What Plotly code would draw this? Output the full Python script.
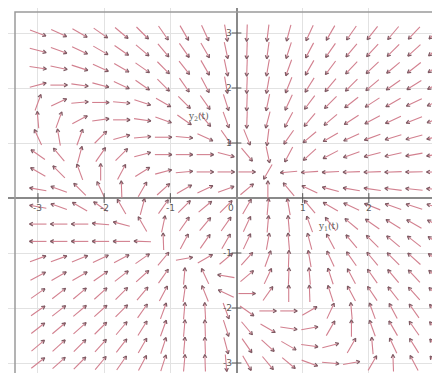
import math
import plotly.graph_objects as go

# ---- grid sample points (20 x 20 arrows) ----
x_points = [-3.0, -2.684, -2.368, -2.053, -1.737, -1.421, -1.105, -0.789, -0.474, -0.158,
            0.158, 0.474, 0.789, 1.105, 1.421, 1.737, 2.053, 2.368, 2.684, 3.0]
y_points = [3.0, 2.684, 2.368, 2.053, 1.737, 1.421, 1.105, 0.789, 0.474, 0.158,
            -0.158, -0.474, -0.789, -1.105, -1.421, -1.737, -2.053, -2.368, -2.684, -3.0]

# ---- arrow directions (degrees, counter-clockwise from +y1), one list per row, top to bottom ----
ang_r00 = [-20, -25, -30, -35, -40, -45, -55, -60, -65, -80, -92, -97, -105, -115, -120, -125, -128, -130, -133, -135]
ang_r01 = [-15, -20, -25, -30, -35, -40, -50, -55, -60, -78, -92, -98, -108, -118, -125, -130, -133, -135, -138, -140]
ang_r02 = [-8, -12, -18, -25, -30, -35, -45, -52, -60, -78, -92, -100, -110, -120, -127, -133, -137, -140, -142, -145]
ang_r03 = [15, 0, -8, -15, -25, -35, -45, -55, -62, -80, -92, -100, -112, -122, -130, -135, -140, -145, -148, -150]
ang_r04 = [70, 25, 5, 0, -5, -18, -30, -45, -55, -72, -92, -102, -115, -127, -135, -142, -147, -150, -155, -157]
ang_r05 = [95, 70, 28, 8, 0, -8, -20, -35, -50, -70, -92, -105, -118, -130, -140, -147, -152, -155, -158, -160]
ang_r06 = [115, 100, 70, 45, 15, 5, 0, -5, -25, -55, -68, -97, -125, -140, -150, -155, -160, -163, -165, -167]
ang_r07 = [145, 130, 75, 55, 45, 15, 0, 0, 0, -15, -50, -78, -118, -138, -152, -160, -165, -167, -170, -170]
ang_r08 = [150, 135, 110, 90, 62, 32, 15, 5, 0, 0, 0, -120, -175, -176, -177, -178, -178, -178, -179, -179]
ang_r09 = [170, 160, 135, 115, 92, 60, 42, 30, 25, 20, 40, 90, 130, 155, 165, 170, 172, 173, 174, 175]
ang_r10 = [170, 160, 150, 145, 120, 75, 55, 45, 40, 45, 60, 85, 100, 130, 150, 155, 158, 160, 162, 163]
ang_r11 = [180, 180, 180, 175, 165, 120, 78, 55, 50, 55, 65, 85, 95, 110, 128, 140, 145, 148, 150, 152]
ang_r12 = [180, 180, 180, 180, 180, 178, 92, 62, 55, 60, 65, 80, 95, 105, 118, 130, 135, 140, 142, 145]
ang_r13 = [20, 20, 22, 25, 28, 35, 50, 10, 30, 40, 48, 70, 88, 100, 115, 125, 130, 135, 138, 142]
ang_r14 = [28, 30, 30, 35, 38, 42, 55, 85, 115, 170, 40, 65, 88, 95, 108, 118, 125, 130, 133, 137]
ang_r15 = [35, 38, 40, 42, 45, 50, 62, 82, 112, 155, 0, 55, 90, 92, 108, 118, 124, 128, 132, 135]
ang_r16 = [35, 38, 40, 42, 45, 55, 70, 85, 93, -70, -35, 0, 0, 30, 65, 95, 110, 118, 125, 130]
ang_r17 = [38, 40, 42, 45, 50, 58, 70, 85, 92, -72, -50, -30, -8, 10, 60, 90, 110, 120, 125, 130]
ang_r18 = [40, 42, 45, 48, 52, 60, 72, 85, 92, -75, -55, -42, -30, -8, 15, 60, 95, 115, 122, 128]
ang_r19 = [38, 42, 45, 50, 55, 62, 72, 85, 92, -85, -60, -50, -40, -20, -5, 10, 60, 92, 118, 125]

angle_rows = [ang_r00, ang_r01, ang_r02, ang_r03, ang_r04, ang_r05, ang_r06, ang_r07, ang_r08, ang_r09,
              ang_r10, ang_r11, ang_r12, ang_r13, ang_r14, ang_r15, ang_r16, ang_r17, ang_r18, ang_r19]

# ---- axis ticks and labels ----
tick_values = [-3, -2, -1, 1, 2, 3]
x_tick_labels = ["-3", "-2", "-1", "1", "2", "3"]
y_tick_labels = ["-3", "-2", "-1", "1", "2", "3"]
x_title = "y<sub>1</sub>(t)"
y_title = "y<sub>2</sub>(t)"

# ---- styling ----
W, H = 440, 373
XR = [-3.453, 3.196]
YR = [-3.327, 3.4545]
ARROW_PX = 17.0
HEAD_PX = 3.8
SHAFT_COLOR = "#d2808f"
HEAD_COLOR = "#7d5a63"
LABEL_FONT = dict(size=9, color="#5a5a5a", family="DejaVu Sans")

px_per_x = W / (XR[1] - XR[0])
px_per_y = H / (YR[1] - YR[0])

sx, sy, hx, hy = [], [], [], []
for yv, row in zip(y_points, angle_rows):
    for xv, a in zip(x_points, row):
        r = math.radians(a)
        ux, uy = math.cos(r), math.sin(r)
        half_dx = 0.5 * ARROW_PX * ux / px_per_x
        half_dy = 0.5 * ARROW_PX * uy / px_per_y
        x0, y0 = xv - half_dx, yv - half_dy
        x1, y1 = xv + half_dx, yv + half_dy
        sx += [x0, x1, None]
        sy += [y0, y1, None]
        for s in (1, -1):
            b = r + math.pi + s * math.radians(28)
            bx = x1 + HEAD_PX * math.cos(b) / px_per_x
            by = y1 + HEAD_PX * math.sin(b) / px_per_y
            hx += [bx, x1, None]
            hy += [by, y1, None]

fig = go.Figure()
fig.add_trace(go.Scatter(x=sx, y=sy, mode="lines", line=dict(color=SHAFT_COLOR, width=1.1),
                         hoverinfo="skip", showlegend=False))
fig.add_trace(go.Scatter(x=hx, y=hy, mode="lines", line=dict(color=HEAD_COLOR, width=1.2),
                         hoverinfo="skip", showlegend=False))
# tick marks on the axes
fig.add_trace(go.Scatter(x=tick_values, y=[0] * len(tick_values), mode="markers",
                         marker=dict(symbol="line-ns", size=7, line=dict(color="#555", width=1)),
                         hoverinfo="skip", showlegend=False))
fig.add_trace(go.Scatter(x=[0] * len(tick_values), y=tick_values, mode="markers",
                         marker=dict(symbol="line-ew", size=7, line=dict(color="#555", width=1)),
                         hoverinfo="skip", showlegend=False))

ann = []
for v, t in zip(tick_values, x_tick_labels):
    ann.append(dict(x=v, y=0, xref="x", yref="y", text=t, showarrow=False, yshift=-10,
                    font=LABEL_FONT))
for v, t in zip(tick_values, y_tick_labels):
    ann.append(dict(x=0, y=v, xref="x", yref="y", text=t, showarrow=False, xanchor="right", xshift=-3,
                    font=LABEL_FONT))
ann.append(dict(x=0, y=0, xref="x", yref="y", text="0", showarrow=False, xshift=-6, yshift=-10,
                font=LABEL_FONT))
ann.append(dict(x=0.757, y=0.413, xref="paper", yref="paper", text=x_title, showarrow=False,
                font=dict(size=9, color="#5a5a5a", family="DejaVu Serif")))
ann.append(dict(x=0.432, y=0.729, xref="paper", yref="paper", text=y_title, showarrow=False,
                font=dict(size=9, color="#5a5a5a", family="DejaVu Serif")))

fig.update_layout(
    width=W, height=H, margin=dict(l=0, r=0, t=0, b=0),
    paper_bgcolor="white", plot_bgcolor="white",
    xaxis=dict(range=XR, tickvals=[-3, -2, -1, 0, 1, 2, 3], showticklabels=False, ticks="",
               showgrid=True, gridcolor="#e2e2e2", gridwidth=1,
               zeroline=True, zerolinecolor="#8a8a8a", zerolinewidth=1.5, fixedrange=True),
    yaxis=dict(range=YR, tickvals=[-3, -2, -1, 0, 1, 2, 3], showticklabels=False, ticks="",
               showgrid=True, gridcolor="#e2e2e2", gridwidth=1,
               zeroline=True, zerolinecolor="#8a8a8a", zerolinewidth=1.5, fixedrange=True),
    annotations=ann,
    shapes=[dict(type="rect", xref="paper", yref="paper", x0=7 / W, x1=1.02, y0=1 - 367 / H, y1=1 - 4 / H,
                 line=dict(color="#9a9a9a", width=1.5), fillcolor="rgba(0,0,0,0)", layer="above")],
)

fig.write_html("out.html")
